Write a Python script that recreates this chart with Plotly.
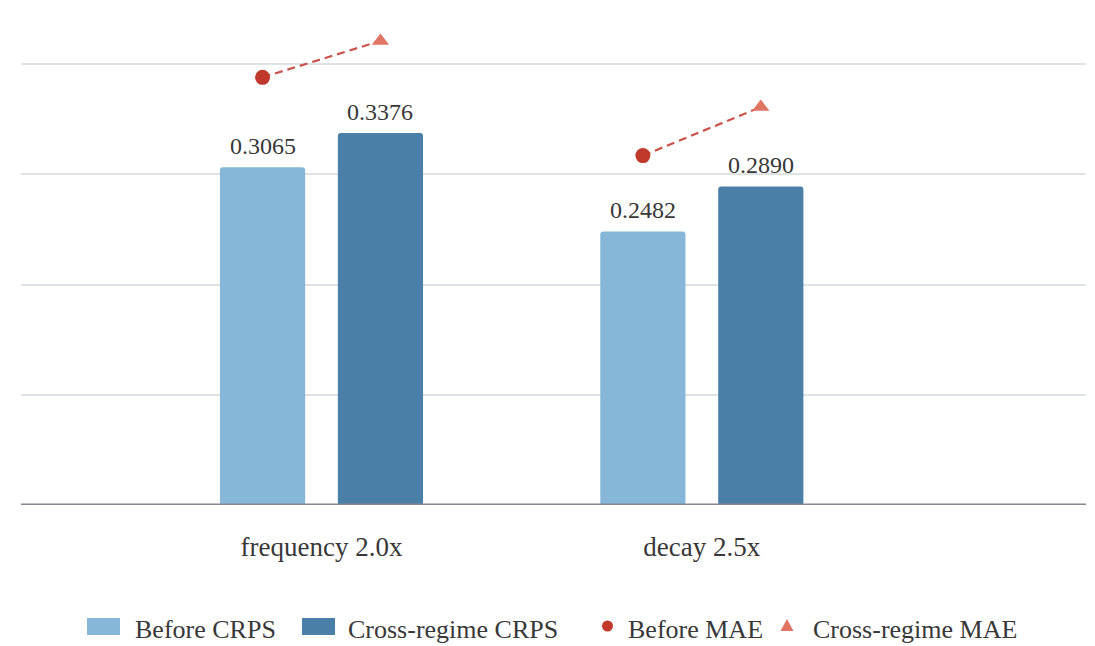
import plotly.graph_objects as go

# Scenario categories and metric values
categories = ["frequency 2.0x", "decay 2.5x"]
before_crps = [0.3065, 0.2482]
cross_crps = [0.3376, 0.2890]
before_mae = [0.388, 0.317]
cross_mae = [0.421, 0.361]
series_names = ["Before CRPS", "Cross-regime CRPS", "Before MAE", "Cross-regime MAE"]

LIGHT = "#86b6d8"
DARK = "#4a7fa7"
RED = "#c0392b"
SALMON = "#e07563"
DASH = "#c9534a"
TEXT = "#383838"
FONT = "Liberation Serif"

W, H = 1095, 646
M = dict(l=21, r=9, t=9, b=141)
PW = W - M["l"] - M["r"]
PH = H - M["t"] - M["b"]

BAR_W = 0.224
SHIFT = 0.155
xs = list(range(len(categories)))

fig = go.Figure()

fig.add_trace(go.Bar(
    x=xs, y=before_crps, name=series_names[0],
    width=BAR_W, offset=-SHIFT - BAR_W / 2,
    marker=dict(color=LIGHT, line=dict(width=0), cornerradius=3),
))
fig.add_trace(go.Bar(
    x=xs, y=cross_crps, name=series_names[1],
    width=BAR_W, offset=SHIFT - BAR_W / 2,
    marker=dict(color=DARK, line=dict(width=0), cornerradius=3),
))

# Dashed connectors between the two MAE markers of each category
for i in xs:
    fig.add_trace(go.Scatter(
        x=[i - SHIFT, i + SHIFT], y=[before_mae[i], cross_mae[i]],
        mode="lines", line=dict(color=DASH, width=2.2, dash="8px,5px"),
        hoverinfo="skip", cliponaxis=False,
    ))

fig.add_trace(go.Scatter(
    x=[i - SHIFT for i in xs], y=before_mae, name=series_names[2],
    mode="markers", marker=dict(symbol="circle", size=15, color=RED),
    cliponaxis=False,
))
fig.add_trace(go.Scatter(
    x=[i + SHIFT for i in xs], y=cross_mae, name=series_names[3],
    mode="markers", marker=dict(symbol="triangle-up", size=15, color=SALMON),
    cliponaxis=False,
))

# Value labels above the CRPS bars
annotations = []
for i in xs:
    for off, vals in ((-SHIFT, before_crps), (SHIFT, cross_crps)):
        annotations.append(dict(
            x=i + off, y=vals[i], xref="x", yref="y", text=f"{vals[i]:.4f}",
            showarrow=False, yanchor="bottom", yshift=6,
            font=dict(family=FONT, size=24, color=TEXT),
        ))


# Legend drawn along the bottom of the figure (pixel helpers -> paper coords)
def px(xp):
    return (xp - M["l"]) / PW


def py(yp):
    return (H - M["b"] - yp) / PH


LEG_Y = 627
shapes = [dict(type="line", xref="paper", yref="y", x0=0, x1=1, y0=0, y1=0,
               line=dict(color="#85888e", width=3))]
for x0, col in ((87, LIGHT), (302, DARK)):
    shapes.append(dict(type="rect", xref="paper", yref="paper",
                       x0=px(x0), x1=px(x0 + 33), y0=py(LEG_Y - 9), y1=py(LEG_Y + 8),
                       fillcolor=col, line=dict(width=0)))
shapes.append(dict(type="circle", xref="paper", yref="paper",
                   x0=px(602), x1=px(613), y0=py(LEG_Y - 6.5), y1=py(LEG_Y + 4.5),
                   fillcolor=RED, line=dict(width=0)))
tx, ty = 787, LEG_Y - 1
shapes.append(dict(type="path", xref="paper", yref="paper",
                   path=f"M {px(tx - 6.5)} {py(ty + 5)} L {px(tx + 6.5)} {py(ty + 5)} "
                        f"L {px(tx)} {py(ty - 7)} Z",
                   fillcolor=SALMON, line=dict(width=0)))

for x0, name in zip((133, 346, 626, 811), series_names):
    annotations.append(dict(
        x=px(x0), y=py(LEG_Y + 2), xref="paper", yref="paper", text=name,
        showarrow=False, xanchor="left", yanchor="middle",
        font=dict(family=FONT, size=26, color=TEXT),
    ))

fig.update_layout(
    width=W, height=H,
    margin=M,
    paper_bgcolor="white", plot_bgcolor="white",
    font=dict(family=FONT, size=24, color=TEXT),
    showlegend=False,
    barmode="overlay",
    xaxis=dict(
        range=[-0.79, 2.01], tickvals=xs, ticktext=categories,
        showgrid=False, zeroline=False, showline=False,
        ticks="", ticklabelstandoff=23,
        tickfont=dict(family=FONT, size=27, color=TEXT),
    ),
    yaxis=dict(
        range=[0, 0.45], dtick=0.1, showticklabels=False,
        showgrid=True, gridcolor="#dfe3e6", gridwidth=1.5,
        zeroline=False, showline=False, ticks="",
    ),
    shapes=shapes,
    annotations=annotations,
)

fig.write_html("out.html")
